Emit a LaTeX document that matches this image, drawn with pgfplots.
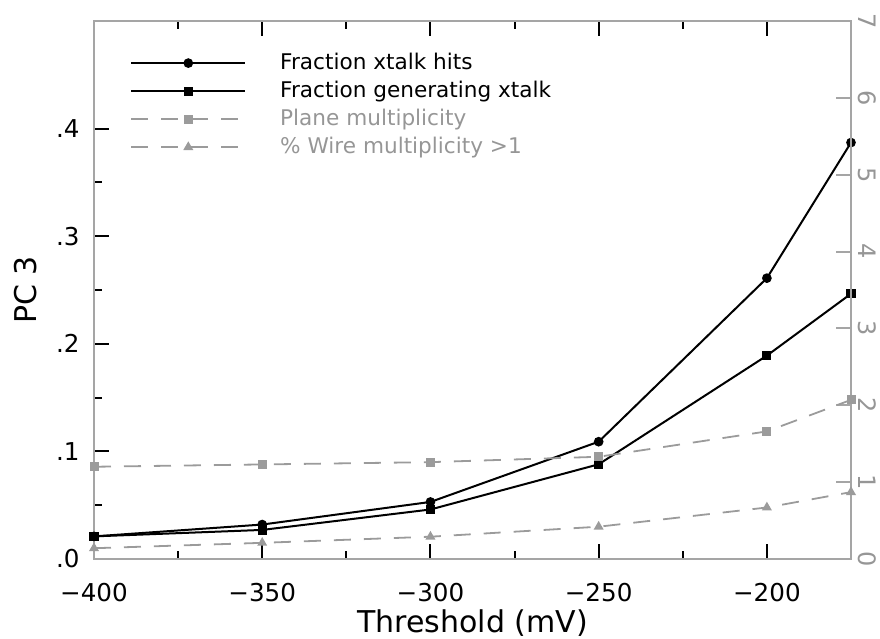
\documentclass[border=0pt]{standalone}
\usepackage{fontspec}
\setmainfont{DejaVu Sans}
\usepackage{pgfplots}
\pgfplotsset{compat=1.18}
\definecolor{lgray}{RGB}{165,165,165}
\definecolor{dgray}{RGB}{155,155,155}
\definecolor{tgray}{RGB}{150,150,150}

\begin{document}
\begin{tikzpicture}
\begin{axis}[
  scale only axis, width=378.5pt, height=269pt,
  xmin=-400, xmax=-175, ymin=0, ymax=0.5,
  axis line style={lgray, line width=1pt},
  xtick={-400,-350,-300,-250,-200},
  xticklabels={−400,−350,−300,−250,−200},
  minor x tick num=1,
  ytick={0,0.1,0.2,0.3,0.4},
  yticklabels={.0,.1,.2,.3,.4},
  minor y tick num=1,
  ytick pos=left, xtick pos=both,
  tick align=inside,
  major tick length=7.5pt, minor tick length=4pt,
  every tick/.style={black, line width=1pt},
  tick label style={font=\fontsize{12.3}{14}\selectfont},
  xticklabel style={anchor=base, yshift=-21.5pt, inner sep=0pt},
  yticklabel style={anchor=east, xshift=-7pt, inner sep=0pt},
  xlabel={Threshold (mV)},
  ylabel={PC 3},
  label style={font=\fontsize{15}{17}\selectfont},
  xlabel style={at={([yshift=-36.8pt]axis description cs:0.5,0)}, anchor=base, inner sep=0pt},
  ylabel style={at={([xshift=-34pt]axis description cs:0,0.5)}, anchor=center, inner sep=0pt},
]
\coordinate (bl) at (rel axis cs:0,0);
\coordinate (tr) at (rel axis cs:1,1);
\addplot[black, line width=1pt, mark=*, mark size=1.9pt]
  coordinates {(-400,0.021) (-350,0.032) (-300,0.053) (-250,0.109) (-200,0.261) (-175,0.387)};
\addplot[black, line width=1pt, mark=square*, mark size=1.8pt]
  coordinates {(-400,0.021) (-350,0.027) (-300,0.046) (-250,0.088) (-200,0.189) (-175,0.2465)};
\end{axis}
\begin{axis}[
  scale only axis, width=378.5pt, height=269pt,
  xmin=-400, xmax=-175, ymin=0, ymax=7,
  axis x line=none, axis y line*=right,
  axis line style={-, lgray, line width=1pt},
  ytick={0,1,2,3,4,5,6,7},
  yticklabels={0,1,2,3,4,5,6,7},
  tick align=inside,
  major tick length=7.5pt,
  every tick/.style={lgray, line width=1pt},
  tick label style={font=\fontsize{12}{14}\selectfont},
  yticklabel style={rotate=-90, anchor=south, inner sep=3.5pt, text=tgray},
  legend image code/.code={\draw[mark repeat=2, mark phase=2, #1] plot coordinates {(0cm,0cm) (1cm,0cm) (2cm,0cm)};},
  legend style={draw=none, fill=none, at={(0,1)}, anchor=north west, xshift=18pt, yshift=-14pt,
    inner sep=0pt, font=\fontsize{10.8}{12}\selectfont, row sep=0.3pt, column sep=15pt,
    nodes={inner sep=2pt}},
  legend cell align=left,
]
\addlegendimage{black, line width=1pt, mark=*, mark size=1.9pt}
\addlegendentry{Fraction xtalk hits}
\addlegendimage{black, line width=1pt, mark=square*, mark size=1.8pt}
\addlegendentry{Fraction generating xtalk}
\addplot[dgray, line width=0.9pt, dash pattern=on 8.5pt off 6.5pt, mark=square*, mark size=1.8pt, mark options={solid}]
  coordinates {(-400,1.20) (-350,1.23) (-300,1.26) (-250,1.33) (-200,1.66) (-175,2.07)};
\addlegendentry{\textcolor{tgray}{Plane multiplicity}}
\addplot[dgray, line width=0.9pt, dash pattern=on 8.5pt off 6.5pt, mark=triangle*, mark size=2pt, mark options={solid}]
  coordinates {(-400,0.14) (-350,0.21) (-300,0.29) (-250,0.42) (-200,0.67) (-175,0.87)};
\addlegendentry{\textcolor{tgray}{\% Wire multiplicity >1}}
\end{axis}
\pgfresetboundingbox
\path ([shift={(-47pt,-40pt)}]bl) rectangle ([shift={(14.5pt,10.5pt)}]tr);
\end{tikzpicture}
\end{document}
